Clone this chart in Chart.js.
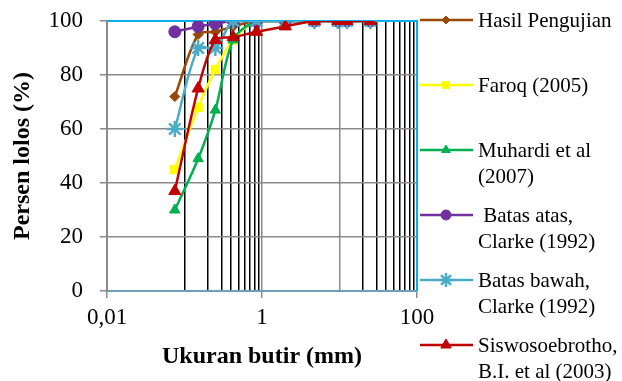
<!DOCTYPE html>
<html>
<head>
<meta charset="utf-8">
<script src="https://cdn.jsdelivr.net/npm/chart.js@4"></script>
<style>
  html, body { margin: 0; padding: 0; background: #fff; }
  #wrap { width: 622px; height: 381px; }
</style>
</head>
<body>
<div id="wrap"><canvas id="gradChart" width="622" height="381"></canvas></div>
<script>
// sieve sizes (mm) and percent passing per source
const sieve = [0.075, 0.15, 0.25, 0.425, 0.85, 2.0, 4.75, 9.5, 12.5, 25];
const hasil = [72, 95, 96, 98, 100, 100, 100, 100, 100, 100];
const faroq = [45, 68, 82, 93, 100, 100, 100, 100, 100, 100];
const muhardi = [30, 49, 67, 93, 100, 100, 100, 100, 100, 100];
const batasAtas = [96, 98, 99, 100, 100, 100, 100, 100, 100, 100];
const batasBawah = [60, 90, 90, 100, 100, 100, 100, 100, 100, 100];
const siswo = [37, 75, 93, 94, 96, 98, 100, 100, 100, 100];

const seriesLabels = [
    ['Hasil Pengujian'],
    ['Faroq (2005)'],
    ['Muhardi et al', '(2007)'],
    [' Batas atas,', 'Clarke (1992)'],
    ['Batas bawah,', 'Clarke (1992)'],
    ['Siswosoebrotho,', 'B.I. et al (2003)']
];

// x ticks: labelled every 2 decades, black lines at minor steps
const xTickValues = [0.01, 0.1, 0.2, 0.3, 0.4, 0.5, 0.6, 0.7, 0.8, 0.9, 1, 10, 20, 30, 40, 50, 60, 70, 80, 90, 100];
const xTickLabels = {0.01: '0,01', 1: '1', 100: '100'};
const yTicks = [0, 20, 40, 60, 80, 100];

const FONT = "'Liberation Serif', 'Times New Roman', serif";

function pts(vals) {
    return sieve.map((s, i) => ({x: s, y: vals[i]}));
}

function makeSet(i, vals, color, style, radius, extra) {
    return Object.assign({
        label: seriesLabels[i].join(' '),
        data: pts(vals),
        borderColor: color,
        backgroundColor: color,
        pointBackgroundColor: color,
        pointBorderColor: color,
        borderWidth: 2.5,
        pointStyle: style,
        pointRadius: radius,
        pointBorderWidth: 1,
        tension: 0.3,
        order: 5 - i
    }, extra || {});
}

const datasets = [
    makeSet(0, hasil, '#984807', 'rectRot', 5),
    makeSet(1, faroq, '#FFFF00', 'rect', 6),
    makeSet(2, muhardi, '#00B050', 'triangle', 6),
    makeSet(3, batasAtas, '#7030A0', 'circle', 6),
    makeSet(4, batasBawah, '#4BACC6', 'star', 8, {pointBorderWidth: 2.5}),
    makeSet(5, siswo, '#C00000', 'triangle', 7)
];

// blue plot border (top + right)
const plotBorder = {
    id: 'plotBorder',
    beforeDatasetsDraw(chart) {
        const {ctx, chartArea: a} = chart;
        ctx.save();
        ctx.strokeStyle = '#00B0F0';
        ctx.lineWidth = 2;
        ctx.beginPath();
        ctx.moveTo(a.left, a.top);
        ctx.lineTo(a.right, a.top);
        ctx.lineTo(a.right, a.bottom);
        ctx.stroke();
        ctx.restore();
    }
};

// legend on the right with wrapped labels
const sideLegend = {
    id: 'sideLegend',
    afterDraw(chart) {
        const {ctx, chartArea: a} = chart;
        const x0 = a.right + 3;
        const x1 = a.right + 56;
        const mx = a.right + 29;
        const tx = a.right + 61;
        ctx.save();
        chart.data.datasets.forEach((ds, i) => {
            const y = a.top - 1 + i * 65;
            ctx.strokeStyle = ds.borderColor;
            ctx.lineWidth = 2.5;
            ctx.beginPath();
            ctx.moveTo(x0, y);
            ctx.lineTo(x1, y);
            ctx.stroke();
            ctx.fillStyle = ds.pointBackgroundColor;
            ctx.strokeStyle = ds.pointBorderColor;
            ctx.lineWidth = ds.pointBorderWidth;
            Chart.helpers.drawPoint(ctx, {
                pointStyle: ds.pointStyle,
                radius: ds.pointRadius - 1,
                rotation: 0,
                borderWidth: ds.pointBorderWidth
            }, mx, y);
            ctx.fillStyle = '#000';
            ctx.font = '21px ' + FONT;
            ctx.textAlign = 'left';
            ctx.textBaseline = 'middle';
            seriesLabels[i].forEach((line, k) => {
                ctx.fillText(line, tx, y + 1 + k * 26);
            });
        });
        ctx.restore();
    }
};

new Chart(document.getElementById('gradChart').getContext('2d'), {
    type: 'line',
    data: {datasets: datasets},
    options: {
        responsive: false,
        animation: false,
        layout: {padding: {top: 21, right: 205, left: 0, bottom: 0}},
        plugins: {legend: {display: false}, tooltip: {enabled: false}},
        scales: {
            x: {
                type: 'logarithmic',
                min: 0.01,
                max: 100,
                afterBuildTicks(scale) {
                    scale.ticks = xTickValues.map(v => ({value: v}));
                },
                afterFit(scale) {
                    scale.height = 90;
                    scale.paddingLeft = 0;
                    scale.paddingRight = 0;
                },
                ticks: {
                    autoSkip: false,
                    maxRotation: 0,
                    padding: 6,
                    color: '#000',
                    font: {family: FONT, size: 23},
                    callback: (v) => xTickLabels[v] || ''
                },
                grid: {
                    lineWidth: 1.5,
                    tickLength: 7,
                    color: (c) => {
                        const v = c.tick ? c.tick.value : 0;
                        if (v === 0.01 || v === 100) return 'rgba(0,0,0,0)';
                        if (v === 1 || v === 10) return '#8a8a8a';
                        return '#000';
                    },
                    tickColor: (c) => {
                        const v = c.tick ? c.tick.value : 0;
                        return xTickLabels[v] ? '#8a8a8a' : 'rgba(0,0,0,0)';
                    }
                },
                border: {color: '#6C9FB8', width: 2},
                title: {
                    display: true,
                    text: 'Ukuran butir (mm)',
                    color: '#000',
                    font: {family: FONT, size: 24, weight: 'bold'},
                    padding: {top: 0, bottom: 10}
                }
            },
            y: {
                min: 0,
                max: 100,
                afterBuildTicks(scale) {
                    scale.ticks = yTicks.map(v => ({value: v}));
                },
                afterFit(scale) {
                    scale.width = 107;
                    scale.paddingTop = 0;
                    scale.paddingBottom = 0;
                },
                ticks: {
                    padding: 17,
                    color: '#000',
                    font: {family: FONT, size: 23}
                },
                grid: {
                    lineWidth: 1.5,
                    tickLength: 7,
                    color: (c) => {
                        const v = c.tick ? c.tick.value : 0;
                        return (v === 0 || v === 100) ? 'rgba(0,0,0,0)' : '#8a8a8a';
                    },
                    tickColor: '#8a8a8a'
                },
                border: {color: '#8a8a8a', width: 2},
                title: {
                    display: true,
                    text: 'Persen lolos (%)',
                    color: '#000',
                    font: {family: FONT, size: 24, weight: 'bold'},
                    padding: {top: 8, bottom: 0}
                }
            }
        }
    },
    plugins: [plotBorder, sideLegend]
});
</script>
</body>
</html>
